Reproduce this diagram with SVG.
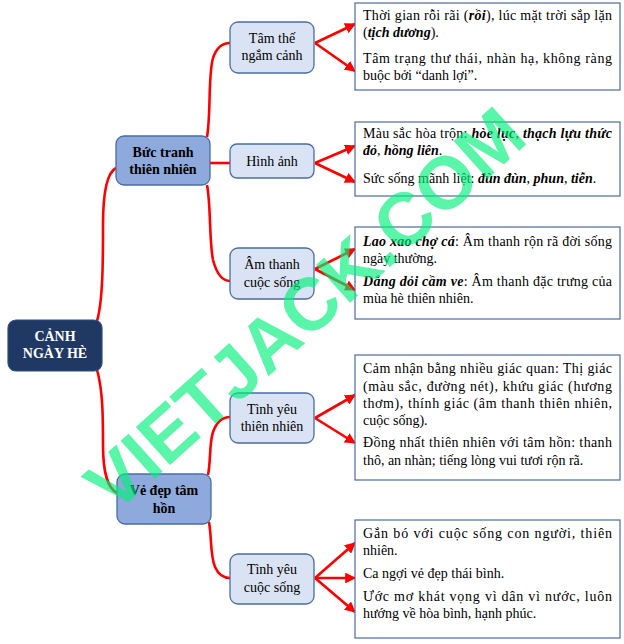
<svg xmlns="http://www.w3.org/2000/svg" width="624" height="644" viewBox="0 0 624 644">
<defs>
<marker id="ah" viewBox="0 0 10 10" refX="9" refY="5" markerWidth="4.2" markerHeight="4.2" orient="auto" markerUnits="strokeWidth">
<path d="M0,0 L10,5 L0,10 z" fill="#FF0000"/>
</marker>
</defs>
<style>
.root rect{fill:#1F3864;stroke:#2F4F86;stroke-width:1.2}
.root text{fill:#FFFFFF;font-family:"Liberation Serif",serif;font-size:14px;font-weight:bold;text-anchor:middle}
.l2 rect{fill:#8EA9DB;stroke:#4A6CA8;stroke-width:1.3}
.l2 text{fill:#000;font-family:"Liberation Serif",serif;font-size:14px;font-weight:bold;text-anchor:middle}
.l3 rect{fill:#DAE3F3;stroke:#4A6CA8;stroke-width:1.3}
.l3 text{fill:#000;font-family:"Liberation Serif",serif;font-size:14px;text-anchor:middle}
.box rect{fill:#FFFFFF;stroke:#4A6CA8;stroke-width:1.2}
.box text{fill:#000;font-family:"Liberation Serif",serif;font-size:14px}
.bi{font-weight:bold;font-style:italic}
.conn path{fill:none;stroke:#FF0000;stroke-width:2.6}
.conn .ar{marker-end:url(#ah)}
.wm{fill:#00F07A;fill-opacity:0.65;font-family:"Liberation Sans",Arial,sans-serif;font-size:74px;font-weight:bold;text-anchor:middle}
</style>

<g id="connectors" class="conn">
<path d="M97,321 C103,300 103,260 103,225 C103,190 108,172 116,168"/>
<path d="M97,370 C103,390 103,420 103,445 C103,475 108,488 117,493"/>
<path d="M207,137 C211,115 208,75 213,58 C217,46 223,43 230,43"/>
<path d="M210,163 L230,163"/>
<path d="M207,185 C211,205 209,240 213,260 C217,275 223,281 230,281"/>
<path d="M208,475 C211,460 209,445 213,432 C217,421 223,417 230,417"/>
<path d="M209,522 C212,540 210,555 215,567 C219,576 224,578 230,578"/>
<path class="ar" d="M315,43 L355,24"/>
<path class="ar" d="M315,43 L355,71"/>
<path class="ar" d="M315,163 L355,146"/>
<path class="ar" d="M315,163 L355,182"/>
<path class="ar" d="M315,269 L355,249"/>
<path class="ar" d="M315,269 L355,290"/>
<path class="ar" d="M315,418 L355,395"/>
<path class="ar" d="M315,418 L355,443"/>
<path class="ar" d="M315,578 L355,543"/>
<path class="ar" d="M315,578 L355,578"/>
<path class="ar" d="M315,578 L355,612"/>
</g>

<g id="root" class="root">
<rect x="8" y="320" width="94" height="51" rx="8"/>
<text x="55" y="341">CẢNH</text>
<text x="55" y="358">NGÀY HÈ</text>
</g>

<g id="buc-tranh" class="l2">
<rect x="116" y="136" width="94" height="49" rx="8"/>
<text x="163" y="157">Bức tranh</text>
<text x="163" y="174">thiên nhiên</text>
</g>

<g id="ve-dep" class="l2">
<rect x="117" y="474" width="94" height="50" rx="8"/>
<text x="164" y="495">Vẻ đẹp tâm</text>
<text x="164" y="513">hồn</text>
</g>

<g id="tam-the" class="l3">
<rect x="230" y="22" width="84" height="51" rx="8"/>
<text x="272" y="43">Tâm thế</text>
<text x="272" y="60">ngắm cảnh</text>
</g>

<g id="hinh-anh" class="l3">
<rect x="230" y="144" width="84" height="34" rx="7"/>
<text x="272" y="166">Hình ảnh</text>
</g>

<g id="am-thanh" class="l3">
<rect x="230" y="248" width="84" height="51" rx="8"/>
<text x="272" y="269">Âm thanh</text>
<text x="272" y="287">cuộc sống</text>
</g>

<g id="ty-thien-nhien" class="l3">
<rect x="230" y="393" width="84" height="50" rx="8"/>
<text x="272" y="414">Tình yêu</text>
<text x="272" y="431">thiên nhiên</text>
</g>

<g id="ty-cuoc-song" class="l3">
<rect x="230" y="554" width="84" height="50" rx="8"/>
<text x="272" y="574">Tình yêu</text>
<text x="272" y="592">cuộc sống</text>
</g>

<g id="box1" class="box">
<rect x="355" y="3" width="265" height="87"/>
<text x="363" y="20" textLength="249" lengthAdjust="spacing">Thời gian rỗi rãi (<tspan class="bi">rồi</tspan>), lúc mặt trời sắp lặn</text>
<text x="363" y="37">(<tspan class="bi">tịch dương</tspan>).</text>
<text x="363" y="63" textLength="249" lengthAdjust="spacing">Tâm trạng thư thái, nhàn hạ, không ràng</text>
<text x="363" y="80">buộc bởi “danh lợi”.</text>
</g>

<g id="box2" class="box">
<rect x="355" y="122" width="265" height="74"/>
<text x="363" y="138" textLength="249" lengthAdjust="spacing">Màu sắc hòa trộn: <tspan class="bi">hòe lục</tspan>, <tspan class="bi">thạch lựu thức</tspan></text>
<text x="363" y="155"><tspan class="bi">đỏ</tspan>, <tspan class="bi">hồng liên</tspan>.</text>
<text x="363" y="183">Sức sống mãnh liệt: <tspan class="bi">đùn đùn</tspan>, <tspan class="bi">phun</tspan>, <tspan class="bi">tiễn</tspan>.</text>
</g>

<g id="box3" class="box">
<rect x="355" y="227" width="265" height="92"/>
<text x="363" y="246" textLength="249" lengthAdjust="spacing"><tspan class="bi">Lao xao chợ cá</tspan>: Âm thanh rộn rã đời sống</text>
<text x="363" y="263">ngày thường.</text>
<text x="363" y="286" textLength="249" lengthAdjust="spacing"><tspan class="bi">Dắng dỏi cầm ve</tspan>: Âm thanh đặc trưng của</text>
<text x="363" y="303">mùa hè thiên nhiên.</text>
</g>

<g id="box4" class="box">
<rect x="355" y="355" width="265" height="125"/>
<text x="363" y="373" textLength="249" lengthAdjust="spacing">Cảm nhận bằng nhiều giác quan: Thị giác</text>
<text x="363" y="391" textLength="249" lengthAdjust="spacing">(màu sắc, đường nét), khứu giác (hương</text>
<text x="363" y="408" textLength="249" lengthAdjust="spacing">thơm), thính giác (âm thanh thiên nhiên,</text>
<text x="363" y="425">cuộc sống).</text>
<text x="363" y="447" textLength="249" lengthAdjust="spacing">Đồng nhất thiên nhiên với tâm hồn: thanh</text>
<text x="363" y="465">thô, an nhàn; tiếng lòng vui tươi rộn rã.</text>
</g>

<g id="box5" class="box">
<rect x="355" y="520" width="265" height="118"/>
<text x="363" y="538" textLength="249" lengthAdjust="spacing">Gắn bó với cuộc sống con người, thiên</text>
<text x="363" y="555">nhiên.</text>
<text x="363" y="578">Ca ngợi vẻ đẹp thái bình.</text>
<text x="363" y="601" textLength="249" lengthAdjust="spacing">Ước mơ khát vọng vì dân vì nước, luôn</text>
<text x="363" y="618">hướng về hòa bình, hạnh phúc.</text>
</g>

<text class="wm" x="322" y="328" transform="rotate(-42 322 328)">VIETJACK.COM</text>
</svg>
